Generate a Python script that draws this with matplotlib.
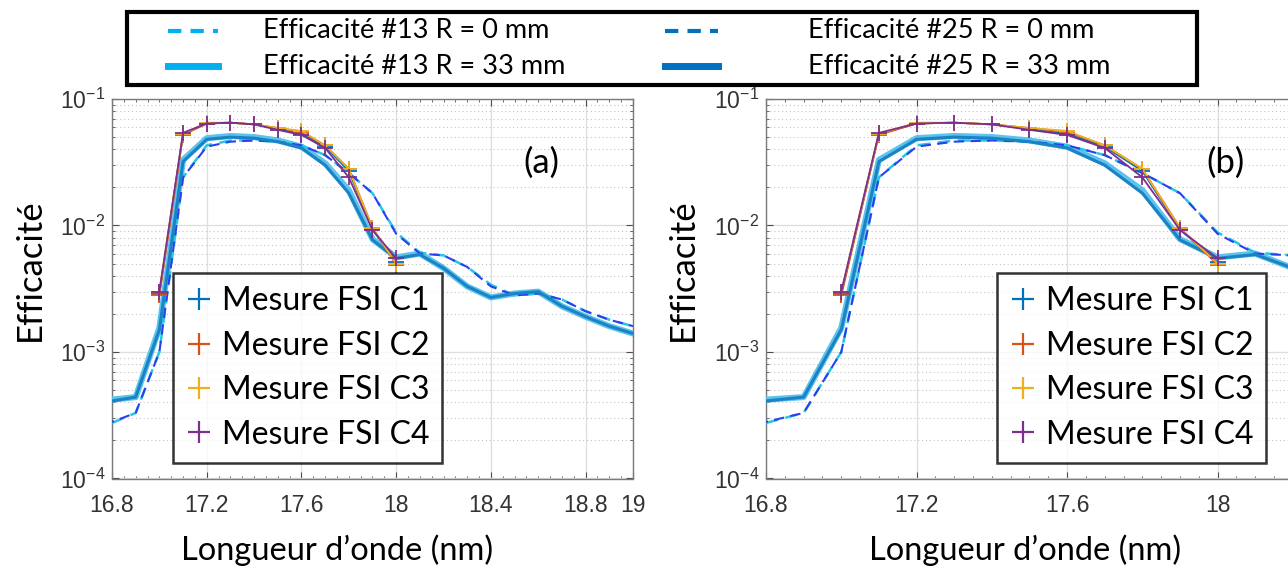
import matplotlib
matplotlib.use("Agg")
import matplotlib.pyplot as plt
from matplotlib.lines import Line2D
from matplotlib.patches import Rectangle
from matplotlib import font_manager as fm
from matplotlib.ticker import FixedLocator, FuncFormatter, LogLocator, NullFormatter, MultipleLocator
import numpy as np

# ---------------- data ----------------
wl = [16.8, 16.9, 17.0, 17.1, 17.2, 17.3, 17.4, 17.5, 17.6, 17.7, 17.8, 17.9,
      18.0, 18.1, 18.2, 18.3, 18.4, 18.5, 18.6, 18.7, 18.8, 18.9, 19.0]
eff13_r0 = [2.75e-4, 3.3e-4, 1.0e-3, 0.024, 0.043, 0.047, 0.047, 0.046, 0.043, 0.036,
            0.026, 0.018, 0.0088, 0.0061, 0.0058, 0.0047, 0.0034, 0.0028, 0.0029, 0.0026,
            0.0021, 0.0018, 0.0016]
eff25_r0 = [2.8e-4, 3.3e-4, 1.0e-3, 0.024, 0.042, 0.046, 0.047, 0.046, 0.043, 0.036,
            0.026, 0.018, 0.0086, 0.0060, 0.0058, 0.0047, 0.0033, 0.0028, 0.0029, 0.0026,
            0.0021, 0.0018, 0.0016]
eff13_r33 = [4.2e-4, 4.4e-4, 1.55e-3, 0.033, 0.049, 0.051, 0.050, 0.047, 0.042, 0.031,
             0.019, 0.0078, 0.0056, 0.0060, 0.0046, 0.0033, 0.0027, 0.0029, 0.0030, 0.0023,
             0.0019, 0.0016, 0.0014]
eff25_r33 = [4.1e-4, 4.4e-4, 1.5e-3, 0.032, 0.048, 0.050, 0.049, 0.046, 0.041, 0.030,
             0.018, 0.0077, 0.0055, 0.0059, 0.0046, 0.0033, 0.0027, 0.0029, 0.0030, 0.0023,
             0.0019, 0.0016, 0.0014]

wl_meas = [17.0, 17.1, 17.2, 17.3, 17.4, 17.5, 17.6, 17.7, 17.8, 17.9, 18.0]
fsi_c1 = [0.0029, 0.053, 0.064, 0.065, 0.063, 0.058, 0.053, 0.042, 0.027, 0.0093, 0.0051]
fsi_c2 = [0.0028, 0.052, 0.064, 0.065, 0.063, 0.059, 0.055, 0.043, 0.028, 0.0096, 0.0049]
fsi_c3 = [0.0030, 0.053, 0.065, 0.065, 0.063, 0.059, 0.056, 0.043, 0.028, 0.0095, 0.0050]
fsi_c4 = [0.0030, 0.054, 0.064, 0.065, 0.063, 0.057, 0.052, 0.041, 0.024, 0.0092, 0.0055]

meas_labels = ["Mesure FSI C1", "Mesure FSI C2", "Mesure FSI C3", "Mesure FSI C4"]
top_labels = ["Efficacité #13 R = 0 mm", "Efficacité #13 R = 33 mm",
              "Efficacité #25 R = 0 mm", "Efficacité #25 R = 33 mm"]
xticks_a = [16.8, 17.2, 17.6, 18.0, 18.4, 18.8, 19.0]
xtick_labels_a = ["16.8", "17.2", "17.6", "18", "18.4", "18.8", "19"]
xticks_b = [16.8, 17.2, 17.6, 18.0, 18.4, 18.8]
xtick_labels_b = ["16.8", "17.2", "17.6", "18", "", ""]
yticks = [1e-4, 1e-3, 1e-2, 1e-1]
panel_tags = ["(a)", "(b)"]
xlabel_txt = "Longueur d\u2019onde (nm)"
ylabel_txt = "Efficacité"

# ---------------- fonts ----------------
avail = {f.name for f in fm.fontManager.ttflist}
txt_font = "Lato" if "Lato" in avail else "DejaVu Sans"
tick_font = "Liberation Sans"
plt.rcParams["mathtext.default"] = "regular"

meas_colors = ["#0072BD", "#D95319", "#EDB120", "#7E2F8E"]

W, H = 1288, 571
fig = plt.figure(figsize=(W / 100, H / 100), dpi=100)

def fx(px):
    return px / W

def fy(py):
    return 1 - py / H

ax_top, ax_bot = 99, 478.5
axes_specs = [
    (112, 521, xticks_a, xtick_labels_a),   # panel (a)
    (766, 828, xticks_b, xtick_labels_b),   # panel (b): wider scale, cropped on the right
]

for i, (left, width, xt, xtl) in enumerate(axes_specs):
    ax = fig.add_axes([fx(left), fy(ax_bot), fx(width), (ax_bot - ax_top) / H])
    ax.set_yscale("log")
    ax.set_xlim(16.8, 19.0)
    ax.set_ylim(1e-4, 1e-1)

    # model curves
    ax.plot(wl, eff13_r33, color="#5cc3ee", lw=4.4, solid_joinstyle="round", zorder=3)
    ax.plot(wl, eff25_r33, color="#1b82c4", lw=2.2, solid_joinstyle="round", zorder=4)
    ax.plot(wl, eff13_r0, color="#22c8e0", lw=1.8, ls=(0, (5, 3)), zorder=3)
    ax.plot(wl, eff25_r0, color="#2a40f0", lw=1.5, ls=(4, (5, 3)), zorder=3)

    # measurements
    handles = []
    for ys, c, lab in zip([fsi_c1, fsi_c2, fsi_c3, fsi_c4], meas_colors, meas_labels):
        ax.plot(wl_meas, ys, color=c, lw=1.3, marker="+", ms=11, mew=1.3, zorder=5)
        handles.append(Line2D([], [], color=c, ls="none", marker="+", ms=16, mew=1.6, label=lab))

    # ticks & grids
    ax.xaxis.set_major_locator(FixedLocator(xt))
    ax.set_xticklabels(xtl)
    ax.xaxis.set_minor_locator(MultipleLocator(0.05))
    ax.yaxis.set_major_locator(FixedLocator(yticks))
    ax.yaxis.set_major_formatter(FuncFormatter(lambda v, p: r"$10^{%d}$" % int(round(np.log10(v)))))
    ax.yaxis.set_minor_locator(LogLocator(base=10, subs=np.arange(2, 10)))
    ax.yaxis.set_minor_formatter(NullFormatter())
    ax.grid(True, which="major", color="#dedede", lw=0.9, ls="-", zorder=0)
    ax.grid(True, which="minor", axis="y", color="#c4c4c4", lw=0.8, ls=(0, (1, 2.5)), zorder=0)
    ax.set_axisbelow(True)

    ax.tick_params(which="both", direction="in", top=True, right=True, colors="#4d4d4d",
                   labelcolor="#333333")
    ax.tick_params(which="major", length=5, labelsize=16.5)
    ax.tick_params(axis="x", which="major", pad=11)
    ax.tick_params(axis="y", which="major", pad=5)
    ax.tick_params(which="minor", length=2.5)
    for lbl in ax.get_xticklabels() + ax.get_yticklabels():
        lbl.set_family(tick_font)
    for sp in ax.spines.values():
        sp.set_color("#7a7a7a")
        sp.set_linewidth(1.0)

    # panel tag
    tag_x = [541, 1226][i]
    fig.text(fx(tag_x), fy(163), panel_tags[i], family=txt_font, fontsize=25,
             ha="center", va="center", color="black")

    # inner legend
    leg_left = [173, 997][i]
    leg = ax.legend(handles=handles, loc="upper left",
                    bbox_to_anchor=(fx(leg_left), fy(273)), bbox_transform=fig.transFigure,
                    borderaxespad=0, frameon=True, fancybox=False, edgecolor="black",
                    prop={"family": txt_font, "size": 23}, handlelength=0.8,
                    handletextpad=0.3, labelspacing=0.45, borderpad=0.42)
    leg.get_frame().set_linewidth(1.8)
    leg.set_zorder(10)

    # axis labels
    xl_x = [337, 1025][i]
    fig.text(fx(xl_x), fy(550), xlabel_txt, family=txt_font, fontsize=23.5,
             ha="center", va="center", color="black")
    yl_x = [30, 683][i]
    fig.text(fx(yl_x), fy(270), ylabel_txt, family=txt_font, fontsize=25,
             ha="center", va="center", rotation=90, color="black")

# ---------------- top legend (drawn as figure artists) ----------------
fig.patches.append(Rectangle((fx(127), fy(85)), fx(1070), 73 / H, transform=fig.transFigure,
                             facecolor="white", edgecolor="black", lw=3, zorder=20))
top_styles = [
    dict(color="#00B0F0", lw=3, ls=(0, (3.2, 2.2))),
    dict(color="#00B0F0", lw=5, ls="-"),
    dict(color="#0070C0", lw=3, ls=(0, (3.2, 2.2))),
    dict(color="#0070C0", lw=5, ls="-"),
]
handle_x = [(168, 218), (168, 218), (665, 718), (665, 718)]
text_x = [263, 263, 808, 808]
row_y = [31, 66, 31, 66]
for lab, st, (hx0, hx1), tx, ry in zip(top_labels, top_styles, handle_x, text_x, row_y):
    fig.lines.append(Line2D([fx(hx0), fx(hx1)], [fy(ry), fy(ry)], transform=fig.transFigure,
                            zorder=21, **st))
    fig.text(fx(tx), fy(ry), lab, family=txt_font, fontsize=19.5, ha="left", va="center",
             color="black", zorder=22)

fig.savefig("out.png", dpi=100)
